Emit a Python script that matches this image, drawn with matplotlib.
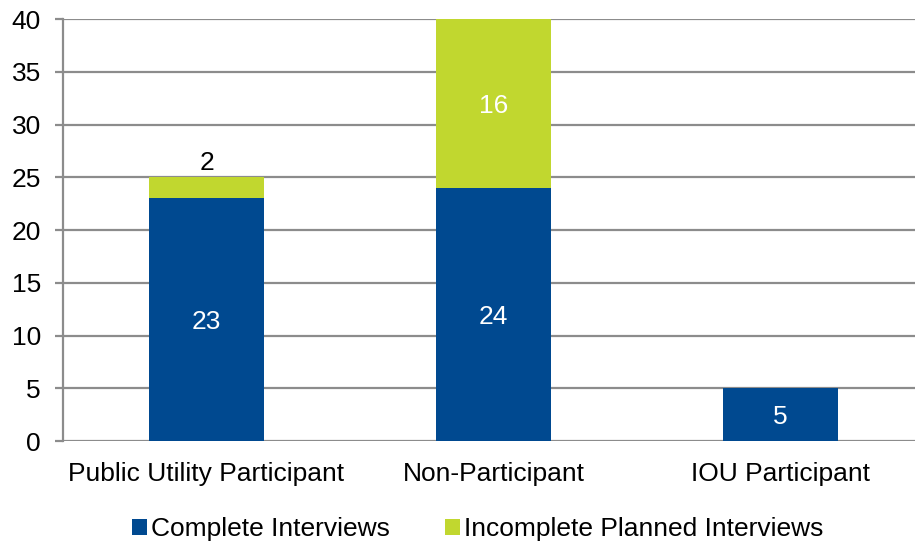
import numpy as np
import matplotlib.pyplot as plt

plt.rcParams['font.family'] = ['Liberation Sans', 'DejaVu Sans']

# interview counts per group
groups = ['Public Utility Participant', 'Non-Participant', 'IOU Participant']
complete = [23, 24, 5]
incomplete = [2, 16, 0]

blue = '#004990'
green = '#c1d72f'
grid = '#8c8c8c'

fig = plt.figure(figsize=(9.15, 5.44), dpi=100)
ax = fig.add_axes([0.0689, 0.1893, 0.941, 0.7757])

x = np.arange(len(groups))
w = 0.40
b1 = ax.bar(x, complete, w, color=blue, zorder=3, label='Complete Interviews')
b2 = ax.bar(x, incomplete, w, bottom=complete, color=green, zorder=3,
            label='Incomplete Planned Interviews')

# value labels: centered in the segment, above it if the segment is thin
for i in range(len(groups)):
    ax.text(x[i], complete[i] / 2, str(complete[i]), ha='center',
            va='center_baseline', color='white', fontsize=19)
    if incomplete[i] == 0:
        continue
    if incomplete[i] < 4:
        ax.text(x[i], complete[i] + incomplete[i] + 0.2, str(incomplete[i]),
                ha='center', va='bottom', color='black', fontsize=19)
    else:
        ax.text(x[i], complete[i] + incomplete[i] / 2, str(incomplete[i]),
                ha='center', va='center_baseline', color='white', fontsize=19)

ax.set_ylim(0, 40)
ax.set_xlim(-0.5, 2.5)
ax.set_yticks(range(0, 41, 5))
ax.set_xticks(x)
ax.set_xticklabels(groups)
ax.yaxis.grid(True, color=grid, linewidth=1.6, zorder=0)
for s in ['top', 'right', 'bottom']:
    ax.spines[s].set_visible(False)
ax.spines['left'].set_color(grid)
ax.spines['left'].set_linewidth(1.6)
ax.tick_params(axis='y', length=6, width=1.6, color=grid, labelsize=19, pad=10)
ax.tick_params(axis='x', length=0, labelsize=19, pad=15)

fig.legend(handles=[b1, b2], loc='center', bbox_to_anchor=(0.522, 0.027),
           ncol=2, frameon=False, fontsize=19, handlelength=0.55,
           handleheight=0.55, handletextpad=0.15, columnspacing=2.1)

fig.savefig('out.png', dpi=100)
